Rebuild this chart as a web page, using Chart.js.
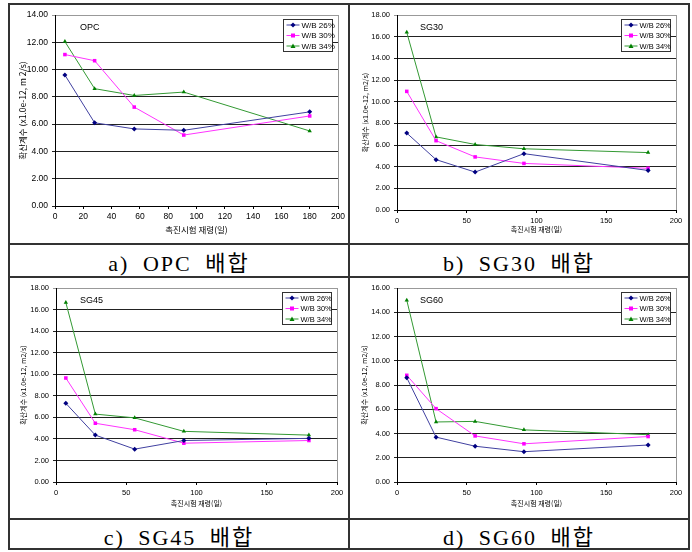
<!DOCTYPE html>
<html>
<head>
<meta charset="utf-8">
<script src="https://cdn.jsdelivr.net/npm/chart.js@4/dist/chart.umd.min.js"></script>
<style>
  body { margin: 0; background: #fff; width: 692px; height: 552px; position: relative; overflow: hidden; }
  .ln { position: absolute; background: #333; }
  canvas { position: absolute; }
  .cap { position: absolute; width: 340px; text-align: center; font-family: "Liberation Serif", "Noto Sans CJK KR", serif; font-size: 22px; letter-spacing: 2px; word-spacing: 6px; color: #000; }
</style>
</head>
<body>
<div class="ln" style="left:9px;top:3px;width:681px;height:2px"></div>
<div class="ln" style="left:9px;top:243px;width:681px;height:2px"></div>
<div class="ln" style="left:9px;top:276px;width:681px;height:2px"></div>
<div class="ln" style="left:9px;top:518px;width:681px;height:2px"></div>
<div class="ln" style="left:9px;top:548px;width:681px;height:2px"></div>
<div class="ln" style="left:8px;top:3px;width:2px;height:547px"></div>
<div class="ln" style="left:348px;top:3px;width:2px;height:547px"></div>
<div class="ln" style="left:688px;top:3px;width:2px;height:547px"></div>

<canvas id="cA" width="339" height="240" style="left:10px;top:4px"></canvas>
<canvas id="cB" width="338" height="240" style="left:350px;top:4px"></canvas>
<canvas id="cC" width="339" height="240" style="left:10px;top:278px"></canvas>
<canvas id="cD" width="338" height="240" style="left:350px;top:278px"></canvas>

<div class="cap" style="left:9px;top:245px">a) OPC 배합</div>
<div class="cap" style="left:349px;top:245px">b) SG30 배합</div>
<div class="cap" style="left:9px;top:519px">c) SG45 배합</div>
<div class="cap" style="left:349px;top:519px">d) SG60 배합</div>

<script>
// 재령 (일)
const ages = [7, 28, 56, 91, 180];
const seriesLabels = ["W/B 26%", "W/B 30%", "W/B 34%"];

// 확산계수 (x1.0e-12 m2/s)
const opc26 = [9.6, 6.1, 5.65, 5.55, 6.9];
const opc30 = [11.1, 10.65, 7.25, 5.2, 6.6];
const opc34 = [12.05, 8.6, 8.1, 8.35, 5.5];

const sg30w26 = [7.1, 4.65, 3.5, 5.2, 3.65];
const sg30w30 = [10.95, 6.4, 4.9, 4.3, 3.85];
const sg30w34 = [16.4, 6.75, 6.05, 5.65, 5.3];

const sg45w26 = [7.3, 4.35, 3.05, 3.85, 4.05];
const sg45w30 = [9.65, 5.45, 4.85, 3.6, 3.85];
const sg45w34 = [16.65, 6.3, 5.95, 4.7, 4.35];

const sg60w26 = [8.6, 3.7, 2.95, 2.5, 3.05];
const sg60w30 = [8.8, 6.05, 3.8, 3.15, 3.75];
const sg60w34 = [15.0, 4.95, 5.0, 4.3, 3.9];

const lineColors = ["#4040a0", "#ff33ff", "#339933"];
const markColors = ["#000080", "#ff00ff", "#008000"];
const markStyles = ["rectRot", "rect", "triangle"];

function drawMark(ctx, style, color, x, y) {
  ctx.fillStyle = color;
  ctx.beginPath();
  if (style === "rectRot") {
    ctx.moveTo(x, y - 2.5); ctx.lineTo(x + 2.5, y); ctx.lineTo(x, y + 2.5); ctx.lineTo(x - 2.5, y);
  } else if (style === "rect") {
    ctx.rect(x - 2, y - 2, 4, 4);
  } else {
    ctx.moveTo(x, y - 2.5); ctx.lineTo(x + 2.5, y + 2); ctx.lineTo(x - 2.5, y + 2);
  }
  ctx.closePath();
  ctx.fill();
}

const overlay = {
  id: "overlay",
  beforeDatasetsDraw(chart) {
    const a = chart.chartArea, ctx = chart.ctx;
    ctx.save();
    ctx.strokeStyle = "#999";
    ctx.lineWidth = 1;
    ctx.beginPath();
    ctx.moveTo(a.right + 0.5, a.top);
    ctx.lineTo(a.right + 0.5, a.bottom);
    ctx.stroke();
    ctx.restore();
  },
  afterDraw(chart, args, opts) {
    const a = chart.chartArea, ctx = chart.ctx;
    ctx.save();
    // 배합 이름
    ctx.fillStyle = "#000";
    ctx.font = "9px 'Liberation Sans', Arial";
    ctx.textBaseline = "middle";
    ctx.fillText(opts.name, a.left + opts.nameX, a.top + 13);
    // 범례
    const w = 49, h = 32;
    const bx = Math.round(a.right - 6 - w) + 0.5, by = Math.round(a.top + 4) + 0.5;
    ctx.fillStyle = "#fff";
    ctx.fillRect(bx, by, w, h);
    ctx.strokeStyle = "#333";
    ctx.lineWidth = 1;
    ctx.strokeRect(bx, by, w, h);
    ctx.font = opts.legendFont;
    chart.data.datasets.forEach((ds, i) => {
      const y = by + 5.5 + i * 10.5;
      ctx.strokeStyle = ds.borderColor;
      ctx.beginPath();
      ctx.moveTo(bx + 3, y);
      ctx.lineTo(bx + 16, y);
      ctx.stroke();
      drawMark(ctx, ds.pointStyle, ds.pointBackgroundColor, bx + 9.5, y);
      ctx.fillStyle = "#000";
      ctx.fillText(ds.label, bx + 18, y + 0.5);
    });
    ctx.restore();
  }
};

function makeChart(id, name, values, yMax, xStep, box, small) {
  const tickFont = small
    ? { family: "'Liberation Sans', Arial", size: 7.5 }
    : { family: "'Liberation Sans', Arial", size: 8.5 };
  const titleFont = small
    ? { family: "'Noto Sans CJK KR', sans-serif", size: 7 }
    : { family: "'Noto Sans CJK KR', sans-serif", size: 8.5 };
  new Chart(document.getElementById(id), {
    type: "line",
    data: {
      datasets: values.map((v, i) => ({
        label: seriesLabels[i],
        data: ages.map((a, j) => ({ x: a, y: v[j] })),
        borderColor: lineColors[i],
        backgroundColor: markColors[i],
        pointBackgroundColor: markColors[i],
        pointBorderColor: markColors[i],
        pointStyle: markStyles[i],
        pointRadius: 2.5,
        pointBorderWidth: 0,
        borderWidth: 1,
        tension: 0
      }))
    },
    options: {
      responsive: false,
      animation: false,
      layout: { padding: { top: box.top, right: box.right, left: 0, bottom: 0 } },
      plugins: {
        legend: { display: false },
        tooltip: { enabled: false },
        overlay: { name: name, nameX: box.nameX, legendFont: small ? "7.5px 'Liberation Sans', Arial" : "8px 'Liberation Sans', Arial" }
      },
      scales: {
        x: {
          type: "linear", min: 0, max: 200,
          ticks: { stepSize: xStep, color: "#000", font: tickFont, padding: 3, maxRotation: 0 },
          grid: { drawOnChartArea: false, tickLength: 3, color: "#000" },
          border: { color: "#000", width: 1 },
          title: { display: true, text: "촉진시험 재령(일)", color: "#000", font: titleFont, padding: { top: 0, bottom: box.xTitle } },
          afterFit: s => { s.height = box.bottom; }
        },
        y: {
          min: 0, max: yMax,
          ticks: { stepSize: 2, color: "#000", font: tickFont, padding: 4, callback: v => v.toFixed(2) },
          grid: { tickLength: 3, color: c => c.tick.value === yMax ? "#999" : "#222", lineWidth: 1 },
          border: { color: "#000", width: 1 },
          title: { display: true, text: small ? "확산계수 (x1.0e-12, m2/s)" : "확산계수 (x1.0e-12, m 2/s)", color: "#000", font: titleFont, padding: { top: box.yTitle, bottom: 0 } },
          afterFit: s => { s.width = box.left; }
        }
      }
    },
    plugins: [overlay]
  });
}

makeChart("cA", "OPC", [opc26, opc30, opc34], 14, 20,
  { left: 45, top: 11, right: 11, bottom: 38, xTitle: 9, yTitle: 8, nameX: 25 }, false);
makeChart("cB", "SG30", [sg30w26, sg30w30, sg30w34], 18, 50,
  { left: 47, top: 11, right: 12, bottom: 34, xTitle: 10, yTitle: 11, nameX: 23 }, true);
makeChart("cC", "SG45", [sg45w26, sg45w30, sg45w34], 18, 50,
  { left: 46, top: 10, right: 12, bottom: 36, xTitle: 10, yTitle: 9, nameX: 24 }, true);
makeChart("cD", "SG60", [sg60w26, sg60w30, sg60w34], 16, 50,
  { left: 47, top: 10, right: 12, bottom: 36, xTitle: 10, yTitle: 10, nameX: 23 }, true);
</script>
</body>
</html>
